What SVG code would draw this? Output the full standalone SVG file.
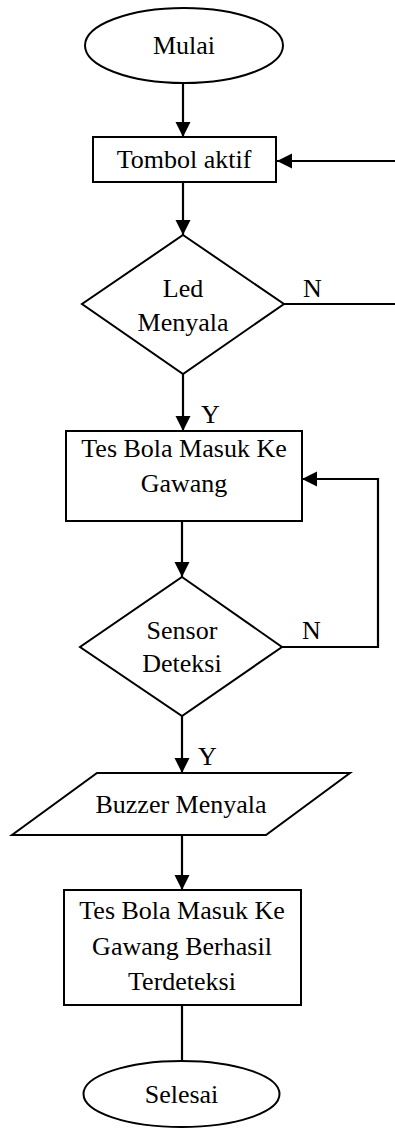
<svg xmlns="http://www.w3.org/2000/svg" width="395" height="1128" viewBox="0 0 395 1128">
<style>
.s{fill:#fff;stroke:#000;stroke-width:2}
.c{fill:none;stroke:#000;stroke-width:2.2}
text{font-family:"Liberation Serif","Times New Roman",serif;font-size:26px;fill:#000;text-anchor:middle}
.l{text-anchor:start}
</style>
<defs>
<marker id="a" markerUnits="userSpaceOnUse" markerWidth="16" markerHeight="16" refX="15" refY="8" orient="auto">
<path d="M0,0.5 L15,8 L0,15.5 Z" fill="#000"/>
</marker>
</defs>
<g id="connectors">
<line class="c" x1="183" y1="83" x2="183" y2="137" marker-end="url(#a)"/>
<line class="c" x1="395" y1="161" x2="277" y2="161" marker-end="url(#a)"/>
<line class="c" x1="183" y1="182" x2="183" y2="235" marker-end="url(#a)"/>
<line class="c" x1="284" y1="304" x2="395" y2="304"/>
<line class="c" x1="183" y1="374" x2="183" y2="431" marker-end="url(#a)"/>
<line class="c" x1="182" y1="521" x2="182" y2="577" marker-end="url(#a)"/>
<polyline class="c" points="282,647 378,647 378,479 302,479" marker-end="url(#a)"/>
<line class="c" x1="182" y1="716" x2="182" y2="773" marker-end="url(#a)"/>
<line class="c" x1="182" y1="835" x2="182" y2="890" marker-end="url(#a)"/>
<line class="c" x1="182" y1="1005" x2="182" y2="1061"/>
<text class="l" x="303" y="297">N</text>
<text class="l" x="201" y="423">Y</text>
<text class="l" x="302" y="639">N</text>
<text class="l" x="198" y="765">Y</text>
</g>
<g id="mulai">
<ellipse class="s" cx="184" cy="45.5" rx="99" ry="37.5"/>
<text x="184" y="54">Mulai</text>
</g>
<g id="tombol">
<rect class="s" x="93" y="137" width="183" height="45"/>
<text x="184" y="168">Tombol aktif</text>
</g>
<g id="led">
<polygon class="s" points="183,235 284,304 183,374 82,304"/>
<text x="183" y="297">Led</text>
<text x="183" y="331">Menyala</text>
</g>
<g id="tes">
<rect class="s" x="66" y="431" width="236" height="90"/>
<text x="184" y="457">Tes Bola Masuk Ke</text>
<text x="184" y="492">Gawang</text>
</g>
<g id="sensor">
<polygon class="s" points="182,577 282,647 182,716 80,647"/>
<text x="182" y="639">Sensor</text>
<text x="182" y="672">Deteksi</text>
</g>
<g id="buzzer">
<polygon class="s" points="97,773 350,773 266,835 12,835"/>
<text x="181" y="813">Buzzer Menyala</text>
</g>
<g id="berhasil">
<rect class="s" x="64" y="890" width="237" height="115"/>
<text x="182" y="919">Tes Bola Masuk Ke</text>
<text x="182" y="955">Gawang Berhasil</text>
<text x="182" y="990">Terdeteksi</text>
</g>
<g id="selesai">
<ellipse class="s" cx="181.5" cy="1094" rx="98" ry="33"/>
<text x="181.5" y="1103">Selesai</text>
</g>
</svg>
